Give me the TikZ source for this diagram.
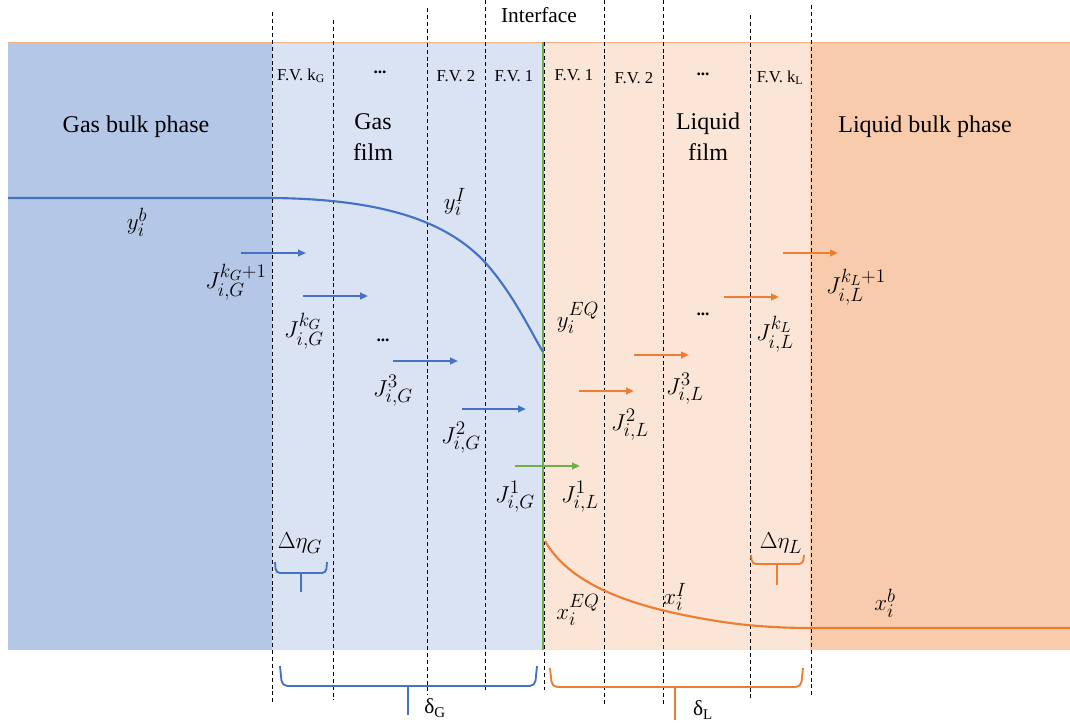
\documentclass[tikz,border=0pt]{standalone}
\usepackage{fontspec}
\setmainfont{Liberation Serif}
\DeclareMathSizes{19}{19}{14.5}{11}
\usetikzlibrary{arrows.meta}
\definecolor{gasbulk}{HTML}{B4C7E7}
\definecolor{gasfilm}{HTML}{DAE3F3}
\definecolor{liqfilm}{HTML}{FBE5D6}
\definecolor{liqbulk}{HTML}{F8CBAD}
\definecolor{bl}{HTML}{4472C4}
\definecolor{orn}{HTML}{ED7D31}
\definecolor{grn}{HTML}{70AD47}
\definecolor{topline}{HTML}{F4B183}
\begin{document}
\begin{tikzpicture}[x=0.75pt,y=-0.75pt,
  fvline/.style={black,line width=0.7pt,dash pattern=on 3pt off 2.2pt},
  fvlab/.style={font=\fontsize{12.5}{14}\selectfont,inner sep=0pt},
  dots/.style={font=\fontsize{13}{15}\selectfont\bfseries,inner sep=0pt},
  phase/.style={font=\fontsize{18}{23}\selectfont,align=center,inner sep=0pt},
  mlab/.style={font=\fontsize{19}{22}\selectfont,inner sep=0pt},
  flux/.style={line width=1.4pt,-{Triangle[length=6pt,width=5pt]}},
  bracket/.style={line width=1.4pt,rounded corners=4pt},
  curve/.style={line width=1.6pt}]
\useasboundingbox (0,0) rectangle (1070,724);
% regions
\fill[gasbulk] (8,42) rectangle (272,650);
\fill[gasfilm] (272,42) rectangle (543,650);
\fill[liqfilm] (543,42) rectangle (810,650);
\fill[liqbulk] (810,42) rectangle (1070,650);
\draw[topline,line width=0.6pt] (8,42) -- (1070,42);
% interface
\draw[grn,line width=2pt] (543,42) -- (543,650);
% dashed F.V. lines
\draw[fvline] (272,12) -- (272,705);
\draw[fvline] (333,20) -- (333,700);
\draw[fvline] (427,8) -- (427,695);
\draw[fvline] (485,0) -- (485,690);
\draw[fvline] (544,42) -- (544,690);
\draw[fvline] (604,0) -- (604,705);
\draw[fvline] (663,0) -- (663,705);
\draw[fvline] (750,15) -- (750,700);
\draw[fvline] (811,5) -- (811,698);
% texts
\node[font=\fontsize{16}{18}\selectfont,inner sep=0pt] (iface) at (539,15) {Interface};
\node[fvlab] (fvkg) at (301,76) {F.V. k\textsubscript{G}};
\node[dots] (dotg) at (380,72) {...};
\node[fvlab] (fvg2) at (456,76) {F.V. 2};
\node[fvlab] (fvg1) at (514,76) {F.V. 1};
\node[fvlab] (fvl1) at (574,75) {F.V. 1};
\node[fvlab] (fvl2) at (634,78) {F.V. 2};
\node[dots] (dotl) at (703,74) {...};
\node[fvlab] (fvkl) at (780,78) {F.V. k\textsubscript{L}};
\node[phase] (gbp) at (136,127) {Gas bulk phase};
\node[phase] (gf) at (373,137) {Gas\\film};
\node[phase] (lf) at (708,137) {Liquid\\film};
\node[phase] (lbp) at (925,127) {Liquid bulk phase};
% concentration profiles
\draw[bl,curve] (8,198) -- (272,198) .. controls (380,199) and (450,220) .. (490,268)
  .. controls (515,298) and (530,330) .. (543,352);
\draw[orn,curve] (545,541) .. controls (572,588) and (640,610) .. (730,623)
  .. controls (760,627) and (790,628) .. (810,628) -- (1070,628);
% profile labels
\node[mlab] (yb) at (137,222) {$y_i^{b}$};
\node[mlab] (yI) at (455,202) {$y_i^{I}$};
\node[mlab] (yEQ) at (578,318) {$y_i^{EQ}$};
\node[mlab] (xEQ) at (578,610) {$x_i^{EQ}$};
\node[mlab] (xI) at (675,597) {$x_i^{I}$};
\node[mlab] (xb) at (885,603) {$x_i^{b}$};
% gas fluxes
\draw[bl,flux] (241,253) -- (306,253);
\node[mlab] (jg5) at (236,282) {$J_{i,G}^{k_G+1}$};
\draw[bl,flux] (303,296) -- (368,296);
\node[mlab] (jg4) at (304,331) {$J_{i,G}^{k_G}$};
\node[dots] (dotj) at (383,340) {...};
\draw[bl,flux] (393,361) -- (458,361);
\node[mlab] (jg3) at (393,391) {$J_{i,G}^{3}$};
\draw[bl,flux] (462,409) -- (526,409);
\node[mlab] (jg2) at (461,438) {$J_{i,G}^{2}$};
\draw[grn,flux] (515,466) -- (580,466);
\node[mlab] (jg1) at (515,497) {$J_{i,G}^{1}$};
\node[mlab] (jl1) at (580,497) {$J_{i,L}^{1}$};
% liquid fluxes
\draw[orn,flux] (579,391) -- (634,391);
\node[mlab] (jl2) at (630,425) {$J_{i,L}^{2}$};
\draw[orn,flux] (634,355) -- (689,355);
\node[mlab] (jl3) at (685,389) {$J_{i,L}^{3}$};
\node[dots] (dotjl) at (703,314) {...};
\draw[orn,flux] (724,297) -- (779,297);
\node[mlab] (jl4) at (775,334) {$J_{i,L}^{k_L}$};
\draw[orn,flux] (783,253) -- (838,253);
\node[mlab] (jl5) at (856,287) {$J_{i,L}^{k_L+1}$};
% delta eta
\node[mlab] (deg) at (300,543) {$\Delta\eta_G$};
\draw[bl,bracket,rounded corners=3pt] (275,562) -- (276,573) -- (326,573) -- (327,562);
\draw[bl,line width=1.4pt] (301,573) -- (301,592);
\node[mlab] (del) at (781,543) {$\Delta\eta_L$};
\draw[orn,bracket,rounded corners=3pt] (751,555) -- (752,564) -- (803,564) -- (804,555);
\draw[orn,line width=1.4pt] (777,564) -- (777,585);
% film braces
\draw[bl,bracket] (280,666) -- (282,686) -- (535,686) -- (537,666);
\draw[bl,line width=1.4pt] (408,686) -- (408,715);
\node[font=\fontsize{16}{18}\selectfont,inner sep=0pt] (dG) at (435,708) {δ\textsubscript{G}};
\draw[orn,bracket] (550,668) -- (552,687) -- (801,687) -- (803,668);
\draw[orn,line width=1.4pt] (675,687) -- (675,720);
\node[font=\fontsize{16}{18}\selectfont,inner sep=0pt] (dL) at (703,710) {δ\textsubscript{L}};
\end{tikzpicture}
\end{document}
